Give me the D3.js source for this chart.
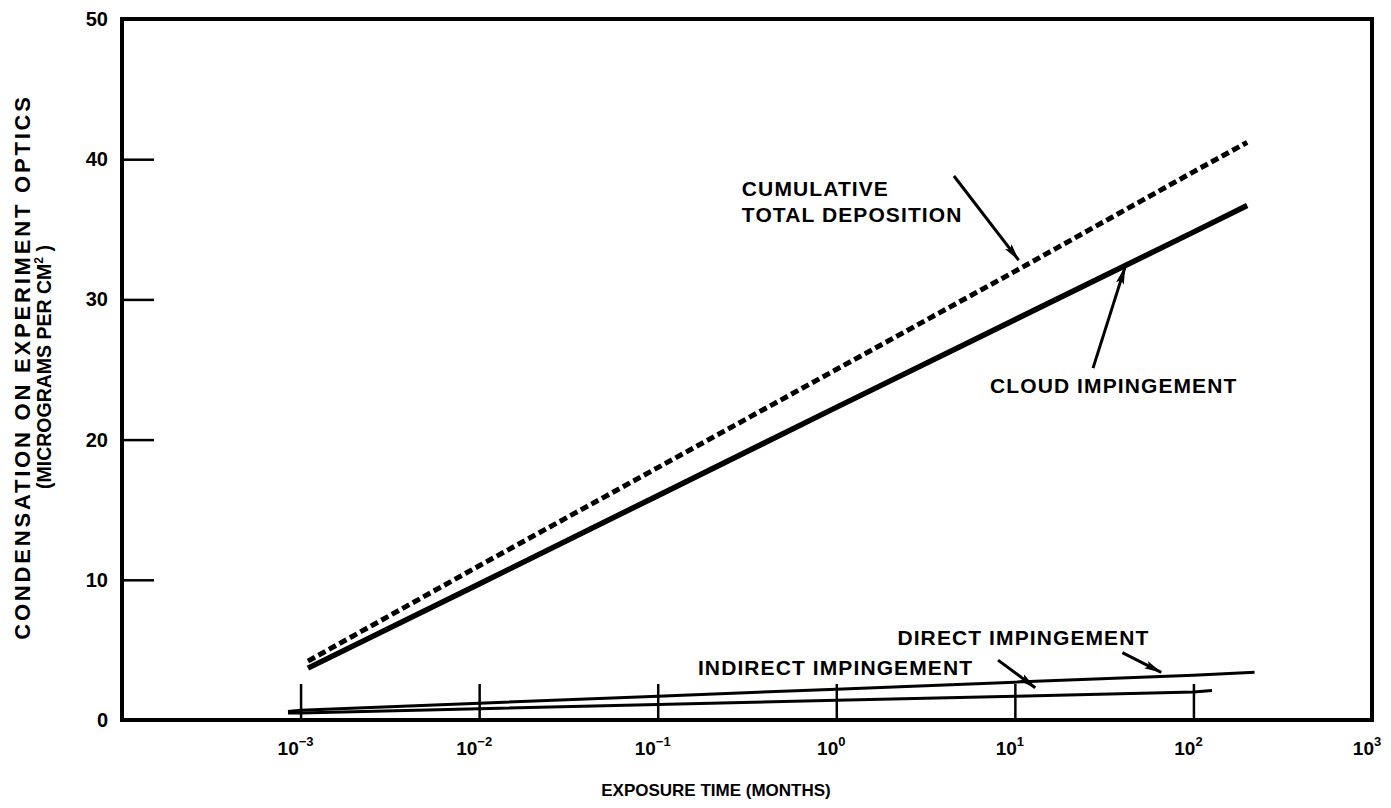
<!DOCTYPE html>
<html lang="en">
<head>
    <meta charset="UTF-8">
    <title>Condensation on Experiment Optics</title>
    <script src="https://d3js.org/d3.v7.min.js"></script>
    <style>
        body { margin: 0; background: #fff; }
        text { font-family: "Liberation Sans", Arial, sans-serif; font-weight: bold; fill: #000; }
    </style>
</head>
<body>
    <svg id="chart" width="1391" height="808"></svg>
    <script>
        // exposure time (months) and deposition (micrograms per cm^2)
        const cumulativeX = [1.1e-3, 1e-2, 1e-1, 1, 10, 100, 200];
        const cumulativeY = [4.2, 11.0, 18.0, 25.0, 32.0, 39.1, 41.2];
        const cloudX = [1.1e-3, 1e-2, 1e-1, 1, 10, 100, 200];
        const cloudY = [3.7, 9.7, 16.0, 22.3, 28.55, 34.8, 36.7];
        const directX = [8.5e-4, 1e-3, 1e-2, 1e-1, 1, 10, 100, 220];
        const directY = [0.6, 0.7, 1.2, 1.7, 2.2, 2.7, 3.2, 3.4];
        const indirectX = [8.5e-4, 1e-3, 1e-2, 1e-1, 1, 10, 100, 127];
        const indirectY = [0.5, 0.5, 0.8, 1.1, 1.4, 1.7, 2.0, 2.1];

        const xTickExps = [-3, -2, -1, 0, 1, 2, 3];
        const yTickValues = [0, 10, 20, 30, 40, 50];

        const width = 1391, height = 808;
        const margin = { top: 19, right: 19, bottom: 88, left: 122 };

        const svg = d3.select('#chart');

        const x = d3.scaleLog()
            .domain([1e-4, 1e3])
            .range([margin.left, width - margin.right]);
        const y = d3.scaleLinear()
            .domain([0, 50])
            .range([height - margin.bottom, margin.top]);

        // arrow head
        svg.append('defs').append('marker')
            .attr('id', 'head')
            .attr('viewBox', '0 0 20 10')
            .attr('refX', 19).attr('refY', 5)
            .attr('markerWidth', 18).attr('markerHeight', 9)
            .attr('markerUnits', 'userSpaceOnUse')
            .attr('orient', 'auto')
            .append('path')
            .attr('d', 'M0,0.5 L20,5 L0,9.5 L4,5 Z');

        // frame
        svg.append('rect')
            .attr('x', x(1e-4)).attr('y', y(50))
            .attr('width', x(1e3) - x(1e-4))
            .attr('height', y(0) - y(50))
            .attr('fill', 'none').attr('stroke', '#000').attr('stroke-width', 4);

        // inward ticks
        const yAxis = svg.append('g')
            .attr('transform', `translate(${x(1e-4)},0)`)
            .call(d3.axisRight(y).tickValues(yTickValues.slice(1, 5)).tickSize(32).tickFormat(''));
        yAxis.select('.domain').remove();
        yAxis.selectAll('line').attr('stroke-width', 2.5);

        const xAxis = svg.append('g')
            .attr('transform', `translate(0,${y(0)})`)
            .call(d3.axisTop(x).tickValues(xTickExps.slice(0, 6).map(e => Math.pow(10, e))).tickSize(36).tickFormat(''));
        xAxis.select('.domain').remove();
        xAxis.selectAll('line').attr('stroke-width', 2.5);

        // tick labels
        svg.append('g').selectAll('text')
            .data(yTickValues)
            .join('text')
            .attr('x', x(1e-4) - 14)
            .attr('y', d => y(d) + 7)
            .attr('text-anchor', 'end')
            .attr('font-size', 20)
            .text(d => d);

        const xl = svg.append('g').selectAll('text')
            .data(xTickExps)
            .join('text')
            .attr('x', d => x(Math.pow(10, d)) - 5)
            .attr('y', y(0) + 35)
            .attr('text-anchor', 'middle')
            .attr('font-size', 19);
        xl.append('tspan').text('10');
        xl.append('tspan')
            .attr('dy', -9)
            .attr('font-size', 13)
            .text(d => d < 0 ? '\u2212' + Math.abs(d) : d);

        // curves
        const line = d3.line().x(d => x(d[0])).y(d => y(d[1]));
        const zip = (a, b) => a.map((v, i) => [v, b[i]]);

        svg.append('path')
            .datum(zip(directX, directY))
            .attr('d', line)
            .attr('fill', 'none').attr('stroke', '#000').attr('stroke-width', 3);
        svg.append('path')
            .datum(zip(indirectX, indirectY))
            .attr('d', line)
            .attr('fill', 'none').attr('stroke', '#000').attr('stroke-width', 3);
        svg.append('path')
            .datum(zip(cloudX, cloudY))
            .attr('d', line)
            .attr('fill', 'none').attr('stroke', '#000').attr('stroke-width', 5.5);
        svg.append('path')
            .datum(zip(cumulativeX, cumulativeY))
            .attr('d', line)
            .attr('fill', 'none').attr('stroke', '#000').attr('stroke-width', 5)
            .attr('stroke-dasharray', '8,4');

        // annotations in data units: label anchor, arrow tail, arrow tip
        const notes = [
            { lines: ['CUMULATIVE', 'TOTAL DEPOSITION'], at: [0.296, 37.4], from: [4.56, 38.8], to: [10.5, 32.8] },
            { lines: ['CLOUD IMPINGEMENT'], at: [7.26, 23.3], from: [27.4, 25.1], to: [41.4, 32.3] },
            { lines: ['DIRECT IMPINGEMENT'], at: [2.2, 5.34], from: [40, 4.8], to: [66, 3.4] },
            { lines: ['INDIRECT IMPINGEMENT'], at: [0.168, 3.2], from: [8.05, 4.27], to: [13.0, 2.3] }
        ];

        notes.forEach(n => {
            const t = svg.append('text')
                .attr('x', x(n.at[0]))
                .attr('y', y(n.at[1]))
                .attr('font-size', 21)
                .attr('letter-spacing', 1.1);
            n.lines.forEach((s, i) => {
                t.append('tspan').attr('x', x(n.at[0])).attr('dy', i ? 26 : 0).text(s);
            });
            svg.append('line')
                .attr('x1', x(n.from[0])).attr('y1', y(n.from[1]))
                .attr('x2', x(n.to[0])).attr('y2', y(n.to[1]))
                .attr('stroke', '#000').attr('stroke-width', 3)
                .attr('marker-end', 'url(#head)');
        });

        // axis titles
        svg.append('text')
            .attr('x', 716)
            .attr('y', 796)
            .attr('text-anchor', 'middle')
            .attr('font-size', 17)
            .text('EXPOSURE TIME (MONTHS)');

        const yt = svg.append('g').attr('transform', 'translate(30,367) rotate(-90)');
        yt.append('text')
            .attr('text-anchor', 'middle')
            .attr('font-size', 22)
            .attr('letter-spacing', 2.8)
            .text('CONDENSATION ON EXPERIMENT OPTICS');
        const yt2 = yt.append('text')
            .attr('y', 21)
            .attr('text-anchor', 'middle')
            .attr('font-size', 19.5);
        yt2.append('tspan').text('(MICROGRAMS PER CM');
        yt2.append('tspan').attr('dy', -8).attr('font-size', 12).text('2');
        yt2.append('tspan').attr('dy', 8).text(' )');
    </script>
</body>
</html>
